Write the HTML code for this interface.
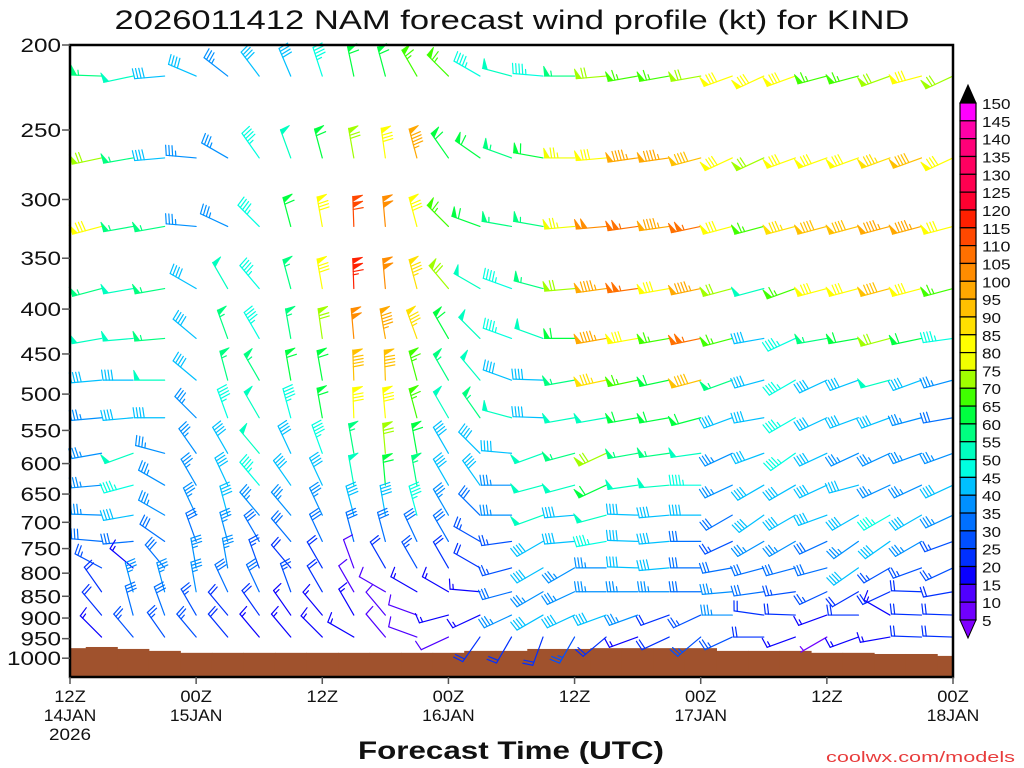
<!DOCTYPE html>
<html>
<head>
<meta charset="utf-8">
<style>
html,body{margin:0;padding:0;background:#fff;}
svg{display:block;font-family:"Liberation Sans",sans-serif;}
</style>
</head>
<body>
<svg id="chart" width="1024" height="768" viewBox="0 0 1024 768" xmlns="http://www.w3.org/2000/svg">
  <text x="512" y="29" font-size="27" text-anchor="middle" textLength="795" lengthAdjust="spacingAndGlyphs" fill="#111">2026011412 NAM forecast wind profile (kt) for KIND</text>
  <g id="terrain"></g>
  <g id="barbs"></g>
  <rect x="70" y="45" width="883" height="632" fill="none" stroke="#000" stroke-width="2.5"/>
  <g id="yaxis"></g>
  <g id="xaxis"></g>
  <g id="cbar"></g>
  <text x="511" y="759" font-size="25" font-weight="bold" text-anchor="middle" textLength="306" lengthAdjust="spacingAndGlyphs" fill="#111">Forecast Time (UTC)</text>
  <text x="1015" y="762" font-size="15" text-anchor="end" textLength="189" lengthAdjust="spacingAndGlyphs" fill="#e83c3c">coolwx.com/models</text>
</svg>
<script>
// ---- data ----
const hours = [3,6,9,12,15,18,21,24,27,30,33,36,39,42,45,48,51,54,57,60,63,66,69,72,75,78,81,84];
const levels = [217,269,322,379,432,482,532,584,635,687,736,789,840,893,946];
const surfHours = [0,3,6,9,12,15,18,21,24,27,30,33,36,39,42,45,48,51,54,57,60,63,66,69,72,75,78,81,84];
const surfP = [974,971,976,981,986,986,986,986,986,986,986,986,986,981,981,976,976,974,974,974,974,981,981,981,986,986,989,989,994];
const yTicks = [200,250,300,350,400,450,500,550,600,650,700,750,800,850,900,950,1000];
const xTickHours = [0,12,24,36,48,60,72,84];
const xTickLine1 = ['12Z','00Z','12Z','00Z','12Z','00Z','12Z','00Z'];
const xTickLine2 = ['14JAN','15JAN','','16JAN','','17JAN','','18JAN'];
const xTickLine3 = ['2026','','','','','','',''];
const cbarLabels = [150,145,140,135,130,125,120,115,110,105,100,95,90,85,80,75,70,65,60,55,50,45,40,35,30,25,20,15,10,5];
const binColors = ['#7000ff','#5000ff','#0a00ff','#0030ff','#0050ff','#0070ff','#0090ff','#00c0ff','#00ffe0','#00ffc0','#00ff80','#00ff40','#40ff00','#a0ff00','#f0ff00','#ffff00','#ffe000','#ffc000','#ffa800','#ff8c00','#ff7000','#ff4800','#ff2000','#ff0030','#ff0050','#ff0060','#ff0078','#ff00a8','#ff00ff'];
const speeds = [
[55,50,40,40,35,40,40,45,60,60,65,65,45,50,45,55,70,65,65,70,80,80,80,65,65,70,80,70],
[70,55,40,35,35,45,50,60,70,80,95,60,60,55,60,75,80,95,95,90,80,70,80,80,80,85,90,80],
[80,55,55,35,35,45,60,80,110,100,80,65,60,55,55,75,100,105,95,105,80,65,85,90,90,95,95,80],
[55,50,55,40,50,45,55,80,115,100,85,70,50,45,55,70,95,105,80,95,70,50,65,80,80,90,80,65],
[50,50,55,40,55,45,55,70,100,95,85,60,50,45,50,60,95,80,65,105,65,40,45,55,60,70,60,45],
[40,40,50,40,55,55,60,60,90,90,65,55,50,40,40,55,85,65,60,90,55,40,45,40,40,50,40,35],
[35,40,40,35,45,50,45,60,80,80,65,50,55,50,40,50,50,60,60,60,40,40,45,40,40,40,35,30],
[35,50,35,35,40,50,40,45,55,70,60,40,40,40,50,55,70,55,55,50,35,40,45,40,35,35,35,35],
[35,45,35,35,40,45,40,40,50,60,55,40,40,35,50,50,60,50,50,45,35,40,40,40,40,35,35,40],
[35,40,35,35,40,35,35,35,40,40,45,35,30,35,50,40,50,40,40,40,30,40,40,40,40,45,40,35],
[30,30,30,30,35,30,30,30,30,30,30,30,25,25,40,40,45,40,40,30,25,35,35,30,35,40,35,25],
[25,15,30,35,35,25,20,20,10,20,25,20,20,25,40,35,35,40,40,30,30,30,30,30,40,25,25,25],
[20,35,35,35,30,30,25,20,10,10,15,15,15,30,35,35,35,35,35,30,35,30,25,25,20,20,20,20],
[20,30,30,25,20,20,15,15,15,10,10,15,15,35,40,40,40,35,20,25,35,20,20,15,20,15,20,20],
[15,25,25,25,20,15,15,15,15,10,10,10,20,20,20,25,20,15,20,25,25,20,15,5,15,15,20,20]
];
const directions = [
[272,258,265,293,308,323,337,342,348,345,330,315,300,285,275,270,265,260,260,260,250,245,250,255,255,250,255,245],
[258,260,265,275,300,325,340,345,350,352,345,325,305,290,280,270,265,262,262,255,245,245,250,250,250,250,250,245],
[255,260,260,275,295,315,345,350,358,355,345,315,290,280,280,265,265,262,262,258,255,255,255,255,255,255,255,255],
[255,260,260,300,330,320,345,350,358,355,345,320,300,290,285,265,262,262,260,258,255,255,250,255,255,255,255,255],
[260,265,265,310,340,330,350,352,355,350,340,330,315,290,290,270,260,260,260,258,255,260,245,260,260,255,258,262],
[265,270,270,310,345,330,350,350,358,358,345,330,320,290,272,260,258,258,258,255,250,255,240,245,250,255,250,255],
[265,265,270,315,340,330,345,350,358,355,345,330,325,285,272,260,260,260,260,255,250,260,240,245,250,250,255,260],
[260,250,285,325,330,320,335,340,350,355,350,330,315,275,250,255,245,260,262,262,245,250,235,245,245,245,250,250],
[265,255,300,330,335,320,325,335,350,355,350,330,325,270,255,255,245,262,265,270,245,240,240,245,255,245,245,245],
[272,260,300,335,345,320,320,335,345,350,345,330,315,270,250,265,255,272,265,270,240,235,240,250,240,240,240,245],
[275,265,305,340,345,330,320,335,345,345,335,330,300,262,240,265,260,272,265,270,245,240,240,245,235,235,240,250],
[298,310,320,350,350,340,320,330,340,330,330,330,300,255,240,240,270,272,265,270,260,255,255,255,235,240,250,245],
[325,345,345,350,335,335,340,330,330,300,300,300,275,255,240,245,270,270,270,270,265,262,262,245,240,245,272,260],
[320,345,340,330,320,325,325,320,330,320,290,255,245,245,240,245,250,250,250,245,270,278,272,250,270,300,272,272],
[315,320,325,320,320,320,320,315,300,320,290,245,215,210,200,210,230,250,245,230,245,270,250,240,250,260,272,272]
];

// ---- axes ----
const X0 = 70, X1 = 953, Y0 = 45, Y1 = 677;
function xOf(h){ return X0 + h * (X1 - X0) / 84; }
function yOf(p){ return Y0 + 381 * Math.log(p / 200); }
const NS = 'http://www.w3.org/2000/svg';
function mk(tag, attrs, parent){
  const e = document.createElementNS(NS, tag);
  for (const k in attrs) e.setAttribute(k, attrs[k]);
  parent.appendChild(e);
  return e;
}
function colorFor(s){
  let b = Math.floor(s / 5) - 1;
  if (b < 0) b = 0;
  if (b > 28) return '#000';
  return binColors[b];
}

// terrain
const terr = document.getElementById('terrain');
surfHours.forEach((h, i) => {
  const xa = Math.max(X0, xOf(h - 1.5)), xb = Math.min(X1, xOf(h + 1.5));
  const y = yOf(surfP[i]);
  const r = mk('rect', {x: xa, y: y, width: xb - xa + 0.5, height: Y1 - y, fill: '#a0522d'}, terr);
  
  
});

// barbs
const bg = document.getElementById('barbs');
const L = 30;
levels.forEach((p, li) => {
  hours.forEach((h, ti) => {
    const s = speeds[li][ti], d = directions[li][ti];
    if (s == null) return;
    const sx = xOf(h), sy = yOf(p);
    const rad = d * Math.PI / 180;
    const ux = Math.sin(rad), uy = -Math.cos(rad);
    const nx = -uy, ny = ux;
    const col = colorFor(s);
    const g = mk('g', {stroke: col, fill: col, 'stroke-width': 1.2, 'stroke-linecap': 'round'}, bg);
    
    
    const P = (t) => [sx + ux * t, sy + uy * t];
    const tip = P(L);
    mk('line', {x1: sx, y1: sy, x2: tip[0], y2: tip[1]}, g);
    let rem = Math.round(s / 5) * 5;
    let pos = L;
    const flags = Math.floor(rem / 50); rem -= flags * 50;
    const full = Math.floor(rem / 10); rem -= full * 10;
    const half = rem >= 5 ? 1 : 0;
    for (let f = 0; f < flags; f++){
      const a = P(pos), b = P(pos - 5);
      const c = [a[0] + nx * 10 + ux * 1, a[1] + ny * 10 + uy * 1];
      mk('polygon', {points: a.join(',') + ' ' + b.join(',') + ' ' + c.join(','), 'stroke-width': 0.8}, g);
      pos -= 6;
    }
    if (flags > 0) pos -= 1;
    for (let f = 0; f < full; f++){
      const a = P(pos);
      mk('line', {x1: a[0], y1: a[1], x2: a[0] + nx * 10 + ux * 1.5, y2: a[1] + ny * 10 + uy * 1.5}, g);
      pos -= 3.2;
    }
    if (half){
      if (flags === 0 && full === 0) pos -= 3;
      const a = P(pos);
      mk('line', {x1: a[0], y1: a[1], x2: a[0] + nx * 5 + ux * 0.8, y2: a[1] + ny * 5 + uy * 0.8}, g);
    }
  });
});

// y axis
const ya = document.getElementById('yaxis');
yTicks.forEach(p => {
  const y = yOf(p);
  const t = mk('line', {x1: 62, y1: y, x2: 70, y2: y, stroke: '#555', 'stroke-width': 1.5}, ya);
  
  
  const s = String(p);
  const lab = mk('text', {x: 61, y: y + 7, 'font-size': 19, 'text-anchor': 'end', fill: '#111', textLength: s.length * 13.5, lengthAdjust: 'spacingAndGlyphs'}, ya);
  lab.textContent = s;
  
  
});

// x axis
const xa = document.getElementById('xaxis');
xTickHours.forEach((h, i) => {
  const x = xOf(h);
  const t = mk('line', {x1: x, y1: 677, x2: x, y2: 684, stroke: '#555', 'stroke-width': 1.5}, xa);
  
  
  [xTickLine1[i], xTickLine2[i], xTickLine3[i]].forEach((s, k) => {
    if (!s) return;
    const lab = mk('text', {x: x, y: 702 + k * 19, 'font-size': 17, 'text-anchor': 'middle', fill: '#111', textLength: s.length * 10.5, lengthAdjust: 'spacingAndGlyphs'}, xa);
    lab.textContent = s;
    
    
  });
});

// color bar
const cb = document.getElementById('cbar');
const CB0 = 103, CB1 = 620, bh = (CB1 - CB0) / 29;
for (let i = 0; i < 29; i++){
  const r = mk('rect', {x: 960, y: CB0 + i * bh, width: 16, height: bh, fill: binColors[28 - i], stroke: '#000', 'stroke-width': 1.2}, cb);
  
  
}
const topTri = mk('polygon', {points: '960,103 976,103 968,85', fill: '#000', stroke: '#000'}, cb);


const botTri = mk('polygon', {points: '960,620 976,620 968,638', fill: '#8000ff', stroke: '#000'}, cb);


cbarLabels.forEach((v, i) => {
  const s = String(v);
  const lab = mk('text', {x: 982, y: CB0 + i * bh + 6, 'font-size': 15, fill: '#111', textLength: s.length * 9.5, lengthAdjust: 'spacingAndGlyphs'}, cb);
  lab.textContent = s;
  
  
});
</script>
</body>
</html>
